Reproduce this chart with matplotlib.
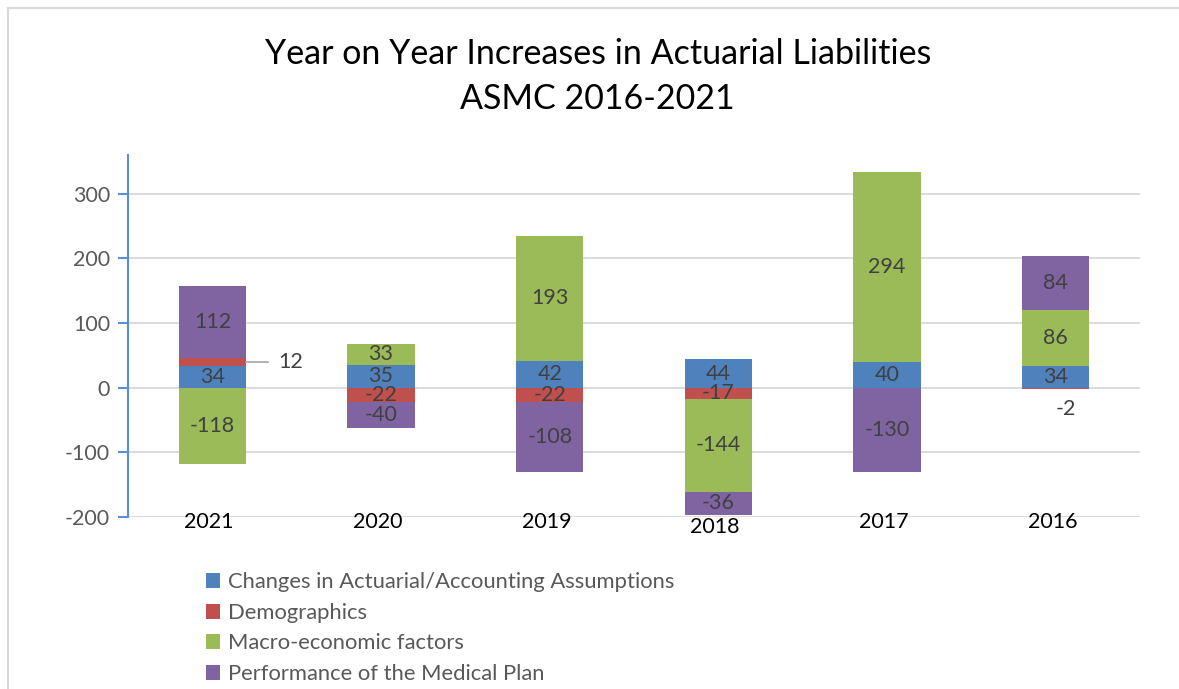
import matplotlib.pyplot as plt
from matplotlib.lines import Line2D
from matplotlib.patches import Patch
from matplotlib.ticker import FuncFormatter

years = ["2021", "2020", "2019", "2018", "2017", "2016"]
series_names = [
    "Changes in Actuarial/Accounting Assumptions",
    "Demographics",
    "Macro-economic factors",
    "Performance of the Medical Plan",
]
assumptions = [34, 35, 42, 44, 40, 34]
demographics = [12, -22, -22, -17, 0, -2]
macro = [-118, 33, 193, -144, 294, 86]
performance = [112, -40, -108, -36, -130, 84]

colors = ["#4F81BD", "#C0504D", "#9BBB59", "#8064A2"]
plt.rcParams["font.family"] = ["Lato", "DejaVu Sans"]
FS = 15.5


def main():
    fig = plt.figure(figsize=(11.79, 6.89), dpi=100)
    ax = fig.add_axes([0.1086, 0.2496, 0.8584, 0.5254])

    # chart-area border: only top and left edges are in view
    fig.lines.append(Line2D([0.0065, 1.0], [0.988, 0.988], transform=fig.transFigure,
                            color="#D9D9D9", lw=1.5))
    fig.lines.append(Line2D([0.0065, 0.0065], [0.0, 0.988], transform=fig.transFigure,
                            color="#D9D9D9", lw=1.5))

    data = [assumptions, demographics, macro, performance]
    x = list(range(len(years)))
    pos_base = [0.0] * len(years)
    neg_base = [0.0] * len(years)
    width = 0.4
    for name, vals, col in zip(series_names, data, colors):
        bottoms = []
        for i, v in enumerate(vals):
            if v >= 0:
                bottoms.append(pos_base[i])
                pos_base[i] += v
            else:
                bottoms.append(neg_base[i])
                neg_base[i] += v
        ax.bar(x, vals, width=width, bottom=bottoms, color=col, label=name, zorder=3)
        for i, (v, b) in enumerate(zip(vals, bottoms)):
            if v == 0:
                continue
            if abs(v) < 10:
                # small segment: label below bar
                ax.text(i + 0.06, b - 33, f"{v}", ha="center", va="center",
                        fontsize=FS, color="#404040", zorder=4)
            elif abs(v) < 15:
                ax.plot([i + width / 2, i + width / 2 + 0.13], [b + v / 2, b + v / 2],
                        color="#A6A6A6", lw=1.2, zorder=4)
                ax.text(i + width / 2 + 0.19, b + v / 2, f"{v}", ha="left", va="center",
                        fontsize=FS, color="#404040", zorder=4)
            else:
                ax.text(i, b + v / 2, f"{v}", ha="center", va="center",
                        fontsize=FS, color="#404040", zorder=4)

    # category labels sit near the bottom gridline
    for i, y in enumerate(years):
        yy = -215 if neg_base[i] < -190 else -207
        ax.text(i - 0.02, yy, y, ha="center", va="center", fontsize=FS,
                color="black", zorder=5)

    ax.set_xlim(-0.5, len(years) - 0.5)
    ax.set_ylim(-200, 360)
    ax.set_yticks([-200, -100, 0, 100, 200, 300])
    ax.yaxis.set_major_formatter(FuncFormatter(lambda v, p: f"{int(v)}"))
    ax.set_xticks([])
    ax.grid(axis="y", color="#D9D9D9", linewidth=1.3, zorder=0)
    for s in ["top", "right", "bottom"]:
        ax.spines[s].set_visible(False)
    ax.spines["left"].set_color("#5B8FD0")
    ax.spines["left"].set_linewidth(1.5)
    ax.tick_params(axis="y", colors="#5B8FD0", length=7, width=1.5, labelsize=FS,
                   labelcolor="#595959", pad=6)

    fig.text(0.507, 0.922, "Year on Year Increases in Actuarial Liabilities", ha="center",
             va="center", fontsize=24.5, color="black")
    fig.text(0.507, 0.857, "ASMC 2016-2021", ha="center", va="center", fontsize=24.5,
             color="black")

    handles = [Patch(facecolor=c, edgecolor="none") for c in colors]
    fig.legend(handles, series_names, loc="upper left", bbox_to_anchor=(0.167, 0.182),
               frameon=False, fontsize=15.8, handlelength=0.65, handleheight=0.65,
               handletextpad=0.35, labelspacing=0.48, borderaxespad=0,
               labelcolor="#595959")

    fig.savefig("out.png", dpi=100)
    plt.close(fig)


if __name__ == "__main__":
    main()
